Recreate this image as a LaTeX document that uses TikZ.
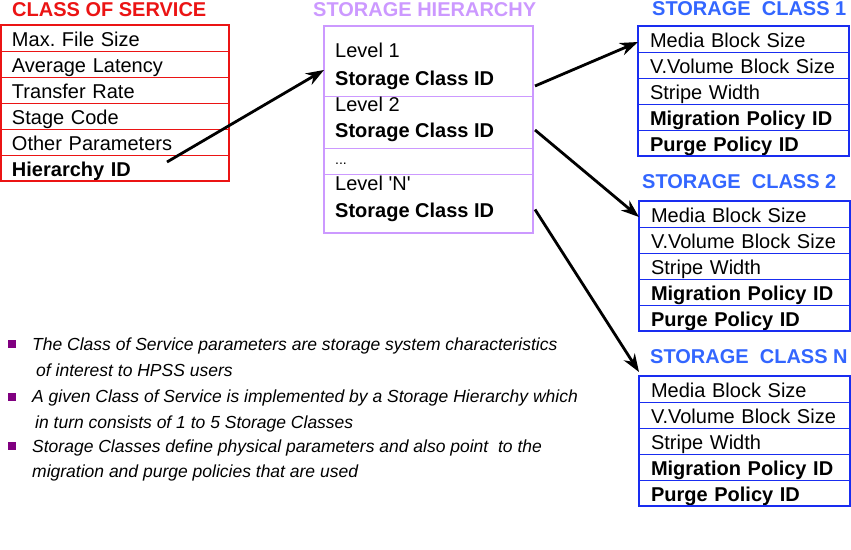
\documentclass[tikz,border=0pt]{standalone}
\usepackage{fontspec}
\setmainfont{Liberation Sans}
\usetikzlibrary{positioning, fit, arrows.meta}
\definecolor{cosred}{RGB}{235,20,20}
\definecolor{hierviolet}{RGB}{204,153,255}
\definecolor{classblue}{RGB}{25,45,240}
\definecolor{titleblue}{RGB}{51,102,255}
\definecolor{bulletpurple}{RGB}{128,0,128}
\tikzstyle{row} = [rectangle, draw, line width=1pt, anchor=north west, minimum height=26pt, inner xsep=0pt, inner ysep=0pt, outer sep=0pt, text height=18pt, text depth=2pt, align=left, font=\fontsize{20}{22}\selectfont]
\tikzstyle{cosrow} = [row, draw=cosred, text width=228pt, execute at begin node={\hspace*{11pt}}]
\tikzstyle{scrow} = [row, draw=classblue, text width=211pt, execute at begin node={\hspace*{12pt}}]
\tikzstyle{hierrow} = [row, draw=hierviolet, text width=209pt]
\tikzstyle{frame} = [rectangle, inner sep=0pt, line width=2.2pt]
\tikzstyle{title} = [anchor=base west, inner sep=0pt, font=\bfseries\fontsize{20}{22}\selectfont]
\tikzstyle{hiertext} = [anchor=base west, inner sep=0pt, font=\fontsize{20}{22}\selectfont]
\tikzstyle{note} = [anchor=base west, inner sep=0pt, font=\itshape\fontsize{17.5}{20}\selectfont]
\tikzstyle{bullet} = [rectangle, fill=bulletpurple, minimum size=8pt, inner sep=0pt]
\tikzstyle{arrow} = [line width=2.8pt, -{Stealth[length=18pt, width=13pt]}]
\frenchspacing
\begin{document}
\begin{tikzpicture}[x=1pt, y=-1pt]
    \useasboundingbox (0,0) rectangle (851,549);

    \node[title, text=cosred] (costitle) at (12,16) {CLASS OF SERVICE};
    \node[cosrow] (cos1) at (1,25) {Max. File Size};
    \node[cosrow, below=0pt of cos1] (cos2) {Average Latency};
    \node[cosrow, below=0pt of cos2] (cos3) {Transfer Rate};
    \node[cosrow, below=0pt of cos3] (cos4) {Stage Code};
    \node[cosrow, below=0pt of cos4] (cos5) {Other Parameters};
    \node[cosrow, below=0pt of cos5] (cos6) {\textbf{Hierarchy ID}};
    \node[frame, draw=cosred, fit=(cos1)(cos6)] (cos) {};

    \node[title, text=hierviolet] (hiertitle) at (313,16) {STORAGE HIERARCHY};
    \node[hierrow, minimum height=70pt] (hs1) at (324,26) {};
    \node[hierrow, minimum height=52pt, below=0pt of hs1] (hs2) {};
    \node[hierrow, minimum height=26pt, below=0pt of hs2] (hs3) {};
    \node[hierrow, minimum height=59pt, below=0pt of hs3] (hs4) {};
    \node[frame, draw=hierviolet, line width=1.6pt, fit=(hs1)(hs4)] (hier) {};
    \node[hiertext] (lv1) at (335,57) {Level 1};
    \node[hiertext] (id1) at (335,85) {\textbf{Storage Class ID}};
    \node[hiertext] (lv2) at (335,111) {Level 2};
    \node[hiertext] (id2) at (335,137) {\textbf{Storage Class ID}};
    \node[hiertext, font=\fontsize{14}{16}\selectfont] (dots) at (335,164) {...};
    \node[hiertext] (lvN) at (335,190) {Level \textquotesingle N\textquotesingle};
    \node[hiertext] (idN) at (335,217) {\textbf{Storage Class ID}};

    \node[title, text=titleblue] (satitle) at (652,15) {STORAGE\ \ CLASS 1};
    \node[scrow] (sa1) at (638,26) {Media Block Size};
    \node[scrow, below=0pt of sa1] (sa2) {V.Volume Block Size};
    \node[scrow, below=0pt of sa2] (sa3) {Stripe Width};
    \node[scrow, below=0pt of sa3] (sa4) {\textbf{Migration Policy ID}};
    \node[scrow, below=0pt of sa4] (sa5) {\textbf{Purge Policy ID}};
    \node[frame, draw=classblue, fit=(sa1)(sa5)] (sca) {};

    \node[title, text=titleblue] (sbtitle) at (642,188) {STORAGE\ \ CLASS 2};
    \node[scrow] (sb1) at (639,201) {Media Block Size};
    \node[scrow, below=0pt of sb1] (sb2) {V.Volume Block Size};
    \node[scrow, below=0pt of sb2] (sb3) {Stripe Width};
    \node[scrow, below=0pt of sb3] (sb4) {\textbf{Migration Policy ID}};
    \node[scrow, below=0pt of sb4] (sb5) {\textbf{Purge Policy ID}};
    \node[frame, draw=classblue, fit=(sb1)(sb5)] (scb) {};

    \node[title, text=titleblue] (sntitle) at (650,363) {STORAGE\ \ CLASS N};
    \node[scrow] (sn1) at (639,376) {Media Block Size};
    \node[scrow, below=0pt of sn1] (sn2) {V.Volume Block Size};
    \node[scrow, below=0pt of sn2] (sn3) {Stripe Width};
    \node[scrow, below=0pt of sn3] (sn4) {\textbf{Migration Policy ID}};
    \node[scrow, below=0pt of sn4] (sn5) {\textbf{Purge Policy ID}};
    \node[frame, draw=classblue, fit=(sn1)(sn5)] (scn) {};

    \draw[arrow] ([xshift=52pt, yshift=6pt]cos6.center) -- ([yshift=-9pt]hs1.west);
    \draw[arrow] ([xshift=2pt, yshift=-25pt]hs1.east) -- ([yshift=-3pt]sa1.west);
    \draw[arrow] ([xshift=2pt, yshift=-8pt]hs2.east) -- ([yshift=-3pt]sb1.west);
    \draw[arrow] ([xshift=2pt, yshift=-6pt]hs4.east) -- ([yshift=4pt]sn1.north west);

    \node[bullet] (b1) at (11.5,344) {};
    \node[note] (n1) at (32,350) {The Class of Service parameters are storage system characteristics};
    \node[note] (n1b) at (36,376) {of interest to HPSS users};
    \node[bullet] (b2) at (11.5,397) {};
    \node[note] (n2) at (32,402) {A given Class of Service is implemented by a Storage Hierarchy which};
    \node[note] (n2b) at (35,428) {in turn consists of 1 to 5 Storage Classes};
    \node[bullet] (b3) at (11.5,446) {};
    \node[note] (n3) at (32,452) {Storage Classes define physical parameters and also point\ \ to the};
    \node[note] (n3b) at (32,477) {migration and purge policies that are used};
\end{tikzpicture}
\end{document}
